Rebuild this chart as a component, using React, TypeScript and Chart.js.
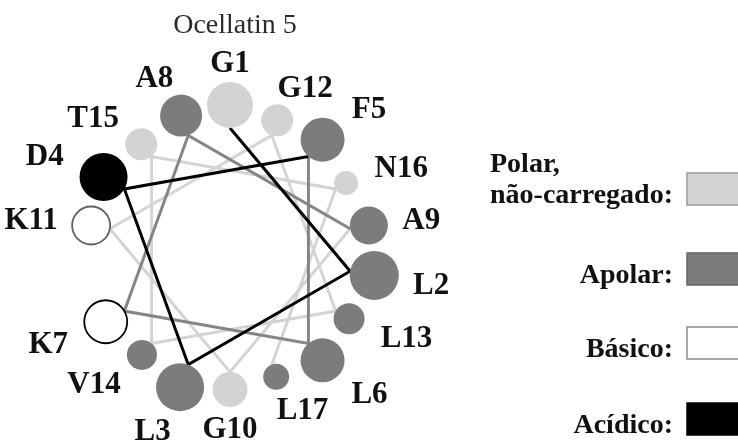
import React, { useEffect, useRef } from "react";
import { Chart, registerables } from "chart.js";
Chart.register(...registerables);

// ---------- data ----------
const chartTitle = "Ocellatin 5";
const residues = ["G1", "L2", "L3", "D4", "F5", "L6", "K7", "A8", "A9", "G10", "K11", "G12", "L13", "V14", "T15", "N16", "L17"];
const residueClass = ["polar", "apolar", "apolar", "acidic", "apolar", "apolar", "basic", "apolar", "apolar", "polar", "basic", "polar", "apolar", "apolar", "polar", "polar", "apolar"];
// helical-wheel angle of each residue (degrees, 100° per residue, clockwise from top)
const wheelAngles = [90, -10, -110, 150, 50, -50, -150, 110, 10, -90, 170, 70, -30, -130, 130, 30, -70];
// relative circle size of each residue
const circleSizes = [23, 24.5, 24, 24, 22, 22, 21.5, 21, 19, 17.5, 19, 16, 15.5, 15, 16, 12, 13];
// shade of the bond from residue i to residue i+1
const bondShade = ["dark", "dark", "dark", "dark", "mid", "mid", "mid", "mid", "light", "light", "light", "light", "light", "light", "light", "light"];
const legendClasses = ["polar", "apolar", "basic", "acidic"];
const legendTexts = [["Polar,", "não-carregado:"], ["Apolar:"], ["Básico:"], ["Acídico:"]];

// ---------- styles / layout ----------
const W = 738, H = 444;
const CX = 230, CY = 250; // wheel centre in pixels
const INNER = 122;
const LABEL_GAP = 10;
const LABEL_SIDE_PUSH = 15;
const classFill: Record<string, string> = { polar: "#d3d3d3", apolar: "#7c7c7c", basic: "#ffffff", acidic: "#000000" };
const legendStroke: Record<string, string> = { polar: "#9a9a9a", apolar: "#666666", basic: "#8a8a8a", acidic: "#000000" };
const shadeColor: Record<string, string> = { dark: "#000000", mid: "#858585", light: "#d4d4d4" };
const SERIF = "'Liberation Serif', 'Times New Roman', serif";

const rad = (d: number) => (d * Math.PI) / 180;

const textPlugin = {
  id: "wheelText",
  afterDatasetsDraw(chart: any) {
    const ctx = chart.ctx as CanvasRenderingContext2D;
    const xs = chart.scales.x, ys = chart.scales.y;
    const ox = xs.getPixelForValue(0), oy = ys.getPixelForValue(0);
    ctx.save();
    // title
    ctx.font = `28px ${SERIF}`;
    ctx.fillStyle = "#2b2b2b";
    ctx.textAlign = "center";
    ctx.textBaseline = "alphabetic";
    ctx.fillText(chartTitle, ox + 5, 33);

    // residue labels
    ctx.font = `bold 31px ${SERIF}`;
    ctx.fillStyle = "#111111";
    const capH = 21;
    residues.forEach((name, i) => {
      const t = rad(wheelAngles[i]);
      const s = circleSizes[i];
      const R = INNER + 2 * s + LABEL_GAP;
      const w = ctx.measureText(name).width;
      const c = Math.cos(t), sn = Math.sin(t);
      const push = Math.sign(c) * Math.abs(Math.sin(2 * t)) * LABEL_SIDE_PUSH;
      const px = ox + R * c + (c * w) / 2 + push;
      const py = oy - R * sn - (sn * capH) / 2;
      ctx.fillText(name, px, py + capH / 2);
    });

    // legend
    ctx.font = `bold 28px ${SERIF}`;
    const rightX = 673;
    const boxX = 687, boxW = 70, boxH = 32;
    const baselines = [[172, 203], [283], [357], [433]];
    const boxTops = [173, 253, 327, 403];
    legendClasses.forEach((cls, k) => {
      const lines = legendTexts[k];
      lines.forEach((txt, j) => {
        if (lines.length > 1 && j === 0) {
          ctx.textAlign = "left";
          ctx.fillText(txt, 490, baselines[k][j]);
        } else {
          ctx.textAlign = "right";
          ctx.fillText(txt, rightX, baselines[k][j]);
        }
      });
      ctx.fillStyle = classFill[cls];
      ctx.fillRect(boxX, boxTops[k], boxW, boxH);
      ctx.strokeStyle = legendStroke[cls];
      ctx.lineWidth = 1.5;
      ctx.strokeRect(boxX, boxTops[k], boxW, boxH);
      ctx.fillStyle = "#111111";
    });
    ctx.restore();
  },
};

export default function App() {
  const ref = useRef<HTMLCanvasElement | null>(null);
  useEffect(() => {
    if (!ref.current) return;
    document.body.style.margin = "0";
    const n = residues.length;
    // bond path points at inner radius, drawn from last residue to first so dark bonds are on top
    const order = residues.map((_, i) => n - 1 - i);
    const bondPoints = order.map((i) => ({
      x: INNER * Math.cos(rad(wheelAngles[i])),
      y: INNER * Math.sin(rad(wheelAngles[i])),
    }));
    const circlePoints = residues.map((_, i) => {
      const r = INNER + circleSizes[i];
      return { x: r * Math.cos(rad(wheelAngles[i])), y: r * Math.sin(rad(wheelAngles[i])) };
    });
    const chart = new Chart(ref.current, {
      type: "scatter",
      data: {
        datasets: [
          {
            label: "residues",
            data: circlePoints,
            order: 0,
            pointRadius: circleSizes,
            pointHoverRadius: circleSizes,
            pointBackgroundColor: residueClass.map((c) => classFill[c]),
            pointBorderColor: residueClass.map((c, i) =>
              c === "basic" ? (i < 8 ? "#000000" : "#606060") : classFill[c]
            ),
            pointBorderWidth: residueClass.map((c) => (c === "basic" ? 1.8 : 0)),
            clip: false,
          } as any,
          {
            label: "bonds",
            data: bondPoints,
            order: 1,
            showLine: true,
            pointRadius: 0,
            pointHoverRadius: 0,
            borderWidth: 3,
            borderColor: "#000",
            segment: {
              borderColor: (ctx: any) => shadeColor[bondShade[n - 2 - ctx.p0DataIndex]],
            },
            clip: false,
          } as any,
        ],
      },
      options: {
        responsive: false,
        animation: false,
        events: [],
        layout: { padding: 0, autoPadding: false },
        plugins: { legend: { display: false }, tooltip: { enabled: false }, title: { display: false } },
        scales: {
          x: { type: "linear", min: -CX, max: W - CX, display: false },
          y: { type: "linear", min: -(H - CY), max: CY, display: false },
        },
      },
      plugins: [textPlugin],
    });
    return () => chart.destroy();
  }, []);
  return (
    <div style={{ position: "fixed", left: 0, top: 0, width: W, height: H, background: "#fff" }}>
      <canvas ref={ref} width={W} height={H} style={{ display: "block" }} />
    </div>
  );
}
